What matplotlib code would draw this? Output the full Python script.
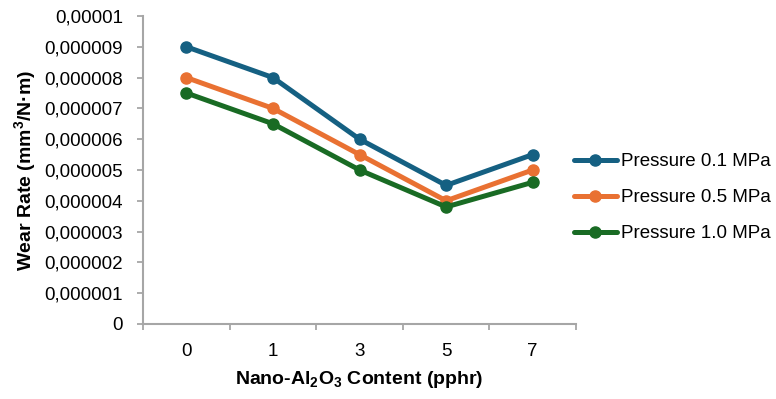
import matplotlib
matplotlib.use("Agg")
import matplotlib.pyplot as plt
from matplotlib.ticker import FuncFormatter, FixedLocator
import numpy as np

categories = ["0", "1", "3", "5", "7"]
p01 = [9.0e-6, 8.0e-6, 6.0e-6, 4.5e-6, 5.5e-6]
p05 = [8.0e-6, 7.0e-6, 5.5e-6, 4.0e-6, 5.0e-6]
p10 = [7.5e-6, 6.5e-6, 5.0e-6, 3.8e-6, 4.6e-6]
series_names = ["Pressure 0.1 MPa", "Pressure 0.5 MPa", "Pressure 1.0 MPa"]
colors = ["#156082", "#E97132", "#196B24"]

plt.rcParams['font.family'] = ['Liberation Sans', 'DejaVu Sans']
plt.rcParams['mathtext.fontset'] = 'custom'
plt.rcParams['mathtext.rm'] = 'Liberation Sans'
plt.rcParams['mathtext.bf'] = 'Liberation Sans:bold'

fig = plt.figure(figsize=(7.76, 3.99), dpi=100)
ax = fig.add_axes([0.1843, 0.188, 0.558, 0.772])

x = np.arange(len(categories))
for vals, name, c in zip([p01, p05, p10], series_names, colors):
    ax.plot(x, vals, color=c, lw=3.6, marker='o', ms=8, label=name,
            solid_capstyle='round', solid_joinstyle='round')

ax.set_xlim(-0.5, len(categories) - 0.5)
ax.set_ylim(0, 1e-5)
ax.set_yticks(np.arange(0, 1.0e-5 + 1e-12, 1e-6))

def fmt(v, pos):
    s = f"{v:.6f}".rstrip('0').rstrip('.')
    return s.replace('.', ',')
ax.yaxis.set_major_formatter(FuncFormatter(fmt))

ax.set_xticks(x)
ax.set_xticklabels(categories)
ax.xaxis.set_minor_locator(FixedLocator(np.arange(-0.5, len(categories), 1.0)))
ax.tick_params(axis='x', which='major', length=0, pad=14, labelsize=13.5)
ax.tick_params(axis='x', which='minor', length=4.5, width=1.3, color='#A6A6A6')
ax.tick_params(axis='y', which='major', length=4.5, width=1.3, color='#A6A6A6', labelsize=13.5, pad=10)

for s in ['top', 'right']:
    ax.spines[s].set_visible(False)
for s in ['left', 'bottom']:
    ax.spines[s].set_color('#A6A6A6')
    ax.spines[s].set_linewidth(1.5)

ax.set_ylabel(r"Wear Rate (mm$^{\mathbf{3}}$/N·m)", fontsize=14, fontweight='bold', labelpad=4)
ax.set_xlabel(r"Nano-Al$_{\mathbf{2}}$O$_{\mathbf{3}}$ Content (pphr)", fontsize=14, fontweight='bold', labelpad=6)

leg = ax.legend(loc='center left', bbox_to_anchor=(0.995, 0.41), frameon=False,
                fontsize=13.5, handlelength=2.3, handletextpad=0.2, labelspacing=1.0,
                borderaxespad=0, borderpad=0)

fig.savefig("out.png", dpi=100)
